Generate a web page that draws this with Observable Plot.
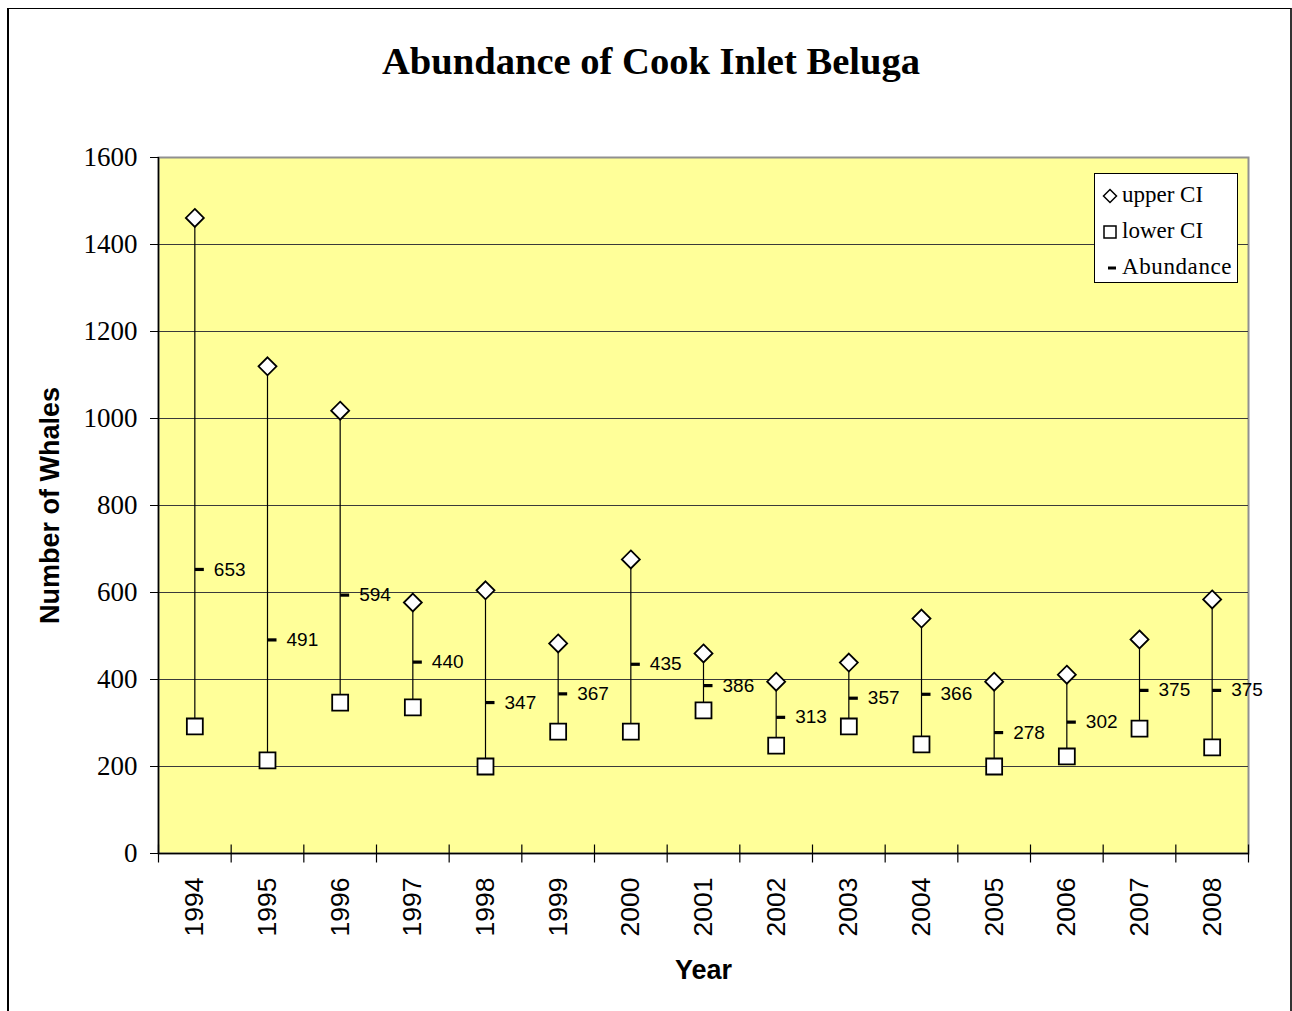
<!DOCTYPE html>
<html>
<head>
<meta charset="utf-8">
<script src="https://cdn.jsdelivr.net/npm/d3@7"></script>
<script src="https://cdn.jsdelivr.net/npm/@observablehq/plot@0.6"></script>
<style>
  html, body { margin: 0; padding: 0; background: #fff; }
  #wrap { position: relative; width: 1292px; height: 1011px; overflow: hidden; }
  #border { position: absolute; left: 7px; top: 8px; width: 1281px; height: 1020px; border-left: 2px solid #000; border-top: 1px solid #000; border-right: 2px solid #333; }
  #title { position: absolute; left: 0; top: 42px; width: 1302px; text-align: center; font: bold 38.6px "Liberation Serif", "Times New Roman", serif; line-height: 39px; color: #000; }
  #chart { position: absolute; left: 0; top: 0; }
  #legend { position: absolute; left: 1094px; top: 173px; width: 142px; height: 108px; border: 1px solid #000; background: #fff; font: 23px "Liberation Serif", "Times New Roman", serif; color: #000; }
  .item { position: absolute; left: 0; height: 30px; line-height: 30px; white-space: nowrap; }
  .item svg { position: absolute; top: 8px; }
  .item span { position: absolute; left: 27px; top: 0; }
</style>
</head>
<body>
<div id="wrap">
  <div id="border"></div>
  <div id="chart"></div>
  <div id="title">Abundance of Cook Inlet Beluga</div>
  <div id="legend"></div>
</div>
<script>
const years = [1994, 1995, 1996, 1997, 1998, 1999, 2000, 2001, 2002, 2003, 2004, 2005, 2006, 2007, 2008];
const abundance = [653, 491, 594, 440, 347, 367, 435, 386, 313, 357, 366, 278, 302, 375, 375];
const upperCI = [1461, 1120, 1018, 577, 605, 483, 676, 460, 395, 439, 540, 395, 411, 492, 584];
const lowerCI = [292, 214, 347, 336, 200, 280, 280, 329, 248, 292, 251, 200, 223, 287, 244];
const yTicks = [0, 200, 400, 600, 800, 1000, 1200, 1400, 1600];
const seriesNames = ["upper CI", "lower CI", "Abundance"];
const titleText = "Abundance of Cook Inlet Beluga";
const xTitle = "Year";
const yTitle = "Number of Whales";

const data = years.map((y, i) => ({year: y, abundance: abundance[i], upper: upperCI[i], lower: lowerCI[i]}));
const boundaries = [years[0] - 0.5, ...years.map(y => y + 0.5)];

const dashSymbol = {draw(ctx) { ctx.moveTo(0, 0); ctx.lineTo(9, 0); }};
const xTickSymbol = {draw(ctx) { ctx.moveTo(0, -9); ctx.lineTo(0, 9); }};

const chart = Plot.plot({
  width: 1292,
  height: 1011,
  marginTop: 157,
  marginRight: 44,
  marginBottom: 158,
  marginLeft: 158,
  style: {background: "transparent", overflow: "visible"},
  x: {type: "linear", domain: [years[0] - 0.5, years[years.length - 1] + 0.5]},
  y: {domain: [0, 1600]},
  marks: [
    Plot.frame({fill: "#FFFF99", stroke: "#909090", strokeWidth: 2}),
    Plot.gridY(yTicks.filter(t => t > 0 && t < 1600), {stroke: "#3a3a3a", strokeOpacity: 1, strokeWidth: 1}),
    Plot.ruleX([years[0] - 0.5], {stroke: "#000", strokeWidth: 1.5}),
    Plot.ruleY([0], {stroke: "#000", strokeWidth: 1.5}),
    Plot.axisY(yTicks, {tickSize: 8, tickPadding: 13, fontSize: 27, fontFamily: "Liberation Serif", fill: "#000", stroke: "#000", label: null, tickFormat: d => String(d)}),
    Plot.axisX(years, {tickSize: 0, tickPadding: 24, tickRotate: -90, fontSize: 26.5, fontFamily: "Liberation Sans", fill: "#000", label: null, tickFormat: d => String(d)}),
    Plot.dot(boundaries, {x: d => d, frameAnchor: "bottom", symbol: xTickSymbol, stroke: "#000", strokeWidth: 1.2, fill: "none", r: 5}),
    Plot.ruleX(data, {x: "year", y1: "lower", y2: "upper", stroke: "#000", strokeWidth: 1.2}),
    Plot.dot(data, {x: "year", y: "upper", symbol: "diamond2", r: 8.1, fill: "#fff", stroke: "#000", strokeWidth: 1.8}),
    Plot.dot(data, {x: "year", y: "lower", symbol: "square", r: 9, fill: "#fff", stroke: "#000", strokeWidth: 1.8}),
    Plot.dot(data, {x: "year", y: "abundance", symbol: dashSymbol, r: 5, fill: "none", stroke: "#000", strokeWidth: 3.2}),
    Plot.text(data, {x: "year", y: "abundance", text: d => String(d.abundance), dx: 19, textAnchor: "start", fontSize: 19, fontFamily: "Liberation Sans", fill: "#000"}),
    Plot.text([yTitle], {text: d => d, frameAnchor: "left", dx: -108, rotate: -90, textAnchor: "middle", lineAnchor: "middle", fontSize: 27, fontWeight: "bold", fontFamily: "Liberation Sans", fill: "#000"}),
    Plot.text([xTitle], {text: d => d, frameAnchor: "bottom", dy: 117, textAnchor: "middle", lineAnchor: "middle", fontSize: 27, fontWeight: "bold", fontFamily: "Liberation Sans", fill: "#000"})
  ]
});
document.getElementById("chart").appendChild(chart);
document.getElementById("title").textContent = titleText;

// legend
const icons = [
  '<svg width="18" height="16" style="left:7px"><path d="M8,1.5 L14.5,8 L8,14.5 L1.5,8 Z" fill="#fff" stroke="#000" stroke-width="1.5"/></svg>',
  '<svg width="18" height="16" style="left:7px"><rect x="2" y="2" width="12" height="12" fill="#fff" stroke="#000" stroke-width="1.5"/></svg>',
  '<svg width="18" height="16" style="left:13px"><line x1="0" y1="8" x2="8" y2="8" stroke="#000" stroke-width="3"/></svg>'
];
const tops = [6, 42, 78];
const legend = document.getElementById("legend");
seriesNames.forEach((name, i) => {
  const div = document.createElement("div");
  div.className = "item";
  div.style.top = tops[i] + "px";
  div.innerHTML = icons[i] + "<span></span>";
  div.querySelector("span").textContent = name;
  if (i === 2) div.querySelector("span").style.letterSpacing = "0.6px";
  legend.appendChild(div);
});
</script>
</body>
</html>
